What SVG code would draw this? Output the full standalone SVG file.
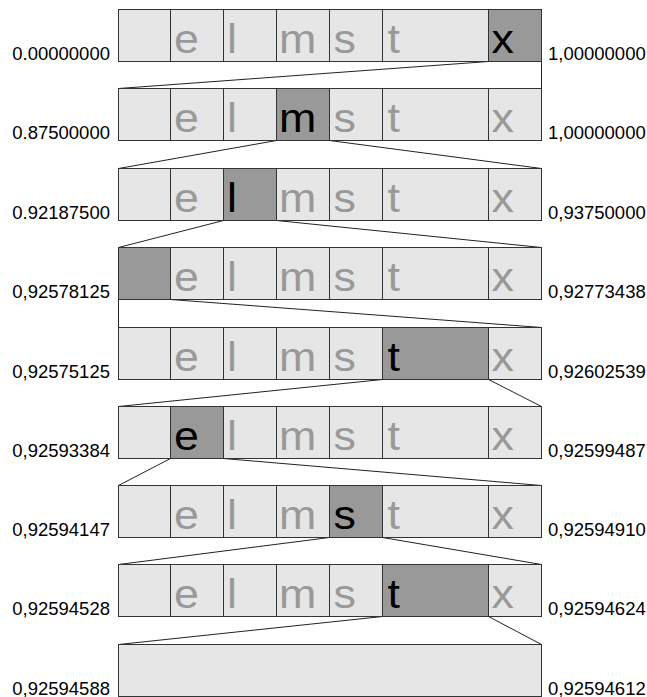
<svg xmlns="http://www.w3.org/2000/svg" width="647" height="697" viewBox="0 0 647 697">
<style>
.c{fill:#e6e6e6;stroke:#333;stroke-width:1}
.h{fill:#999;stroke:#333;stroke-width:1}
.l{font-family:"Liberation Sans",Arial,sans-serif;font-size:40px;fill:#999}
.lh{font-family:"Liberation Sans",Arial,sans-serif;font-size:40px;fill:#000}
.v{font-family:"Liberation Sans",Arial,sans-serif;font-size:18.5px;fill:#000}
.vl{text-anchor:end}
.cn{stroke:#222;stroke-width:1;fill:none}
</style>
<defs>
<g id="cells">
<rect class="c" x="118.5" y="0" width="52" height="52"/>
<rect class="c" x="170.5" y="0" width="53" height="52"/>
<rect class="c" x="223.5" y="0" width="53" height="52"/>
<rect class="c" x="276.5" y="0" width="53" height="52"/>
<rect class="c" x="329.5" y="0" width="53" height="52"/>
<rect class="c" x="382.5" y="0" width="106" height="52"/>
<rect class="c" x="488.5" y="0" width="53" height="52"/>
</g>
</defs>
<g id="connectors">
<line class="cn" x1="488.5" y1="61.5" x2="118.5" y2="88.5"/>
<line class="cn" x1="541.5" y1="61.5" x2="541.5" y2="88.5"/>
<line class="cn" x1="276.5" y1="140.5" x2="118.5" y2="168.5"/>
<line class="cn" x1="329.5" y1="140.5" x2="541.5" y2="168.5"/>
<line class="cn" x1="223.5" y1="220.5" x2="118.5" y2="247.5"/>
<line class="cn" x1="276.5" y1="220.5" x2="541.5" y2="247.5"/>
<line class="cn" x1="118.5" y1="299.5" x2="118.5" y2="327.5"/>
<line class="cn" x1="170.5" y1="299.5" x2="541.5" y2="327.5"/>
<line class="cn" x1="382.5" y1="379.5" x2="118.5" y2="406.5"/>
<line class="cn" x1="488.5" y1="379.5" x2="541.5" y2="406.5"/>
<line class="cn" x1="170.5" y1="458.5" x2="118.5" y2="485.5"/>
<line class="cn" x1="223.5" y1="458.5" x2="541.5" y2="485.5"/>
<line class="cn" x1="329.5" y1="537.5" x2="118.5" y2="564.5"/>
<line class="cn" x1="382.5" y1="537.5" x2="541.5" y2="564.5"/>
<line class="cn" x1="382.5" y1="616.5" x2="118.5" y2="644.5"/>
<line class="cn" x1="488.5" y1="616.5" x2="541.5" y2="644.5"/>
</g>
<g id="row1" transform="translate(0,9.5)">
<use href="#cells"/>
<rect class="h" x="488.5" y="0" width="53" height="52"/>
<text class="l" transform="translate(174,43) scale(1.12,1)">e</text><text class="l" transform="translate(227,43) scale(1.12,1)">l</text><text class="l" transform="translate(279,43) scale(1.12,1)">m</text><text class="l" transform="translate(333.5,43) scale(1.12,1)">s</text><text class="l" transform="translate(387.5,43) scale(1.12,1)">t</text><text class="lh" transform="translate(491.5,43) scale(1.12,1)">x</text>
<text class="v vl" x="110" y="50">0.00000000</text><text class="v" x="548" y="50">1,00000000</text>
</g>
<g id="row2" transform="translate(0,88.5)">
<use href="#cells"/>
<rect class="h" x="276.5" y="0" width="53" height="52"/>
<text class="l" transform="translate(174,43) scale(1.12,1)">e</text><text class="l" transform="translate(227,43) scale(1.12,1)">l</text><text class="lh" transform="translate(279,43) scale(1.12,1)">m</text><text class="l" transform="translate(333.5,43) scale(1.12,1)">s</text><text class="l" transform="translate(387.5,43) scale(1.12,1)">t</text><text class="l" transform="translate(491.5,43) scale(1.12,1)">x</text>
<text class="v vl" x="110" y="50">0.87500000</text><text class="v" x="548" y="50">1,00000000</text>
</g>
<g id="row3" transform="translate(0,168.5)">
<use href="#cells"/>
<rect class="h" x="223.5" y="0" width="53" height="52"/>
<text class="l" transform="translate(174,43) scale(1.12,1)">e</text><text class="lh" transform="translate(227,43) scale(1.12,1)">l</text><text class="l" transform="translate(279,43) scale(1.12,1)">m</text><text class="l" transform="translate(333.5,43) scale(1.12,1)">s</text><text class="l" transform="translate(387.5,43) scale(1.12,1)">t</text><text class="l" transform="translate(491.5,43) scale(1.12,1)">x</text>
<text class="v vl" x="110" y="50">0.92187500</text><text class="v" x="548" y="50">0,93750000</text>
</g>
<g id="row4" transform="translate(0,247.5)">
<use href="#cells"/>
<rect class="h" x="118.5" y="0" width="52" height="52"/>
<text class="l" transform="translate(174,43) scale(1.12,1)">e</text><text class="l" transform="translate(227,43) scale(1.12,1)">l</text><text class="l" transform="translate(279,43) scale(1.12,1)">m</text><text class="l" transform="translate(333.5,43) scale(1.12,1)">s</text><text class="l" transform="translate(387.5,43) scale(1.12,1)">t</text><text class="l" transform="translate(491.5,43) scale(1.12,1)">x</text>
<text class="v vl" x="110" y="50">0,92578125</text><text class="v" x="548" y="50">0,92773438</text>
</g>
<g id="row5" transform="translate(0,327.5)">
<use href="#cells"/>
<rect class="h" x="382.5" y="0" width="106" height="52"/>
<text class="l" transform="translate(174,43) scale(1.12,1)">e</text><text class="l" transform="translate(227,43) scale(1.12,1)">l</text><text class="l" transform="translate(279,43) scale(1.12,1)">m</text><text class="l" transform="translate(333.5,43) scale(1.12,1)">s</text><text class="lh" transform="translate(387.5,43) scale(1.12,1)">t</text><text class="l" transform="translate(491.5,43) scale(1.12,1)">x</text>
<text class="v vl" x="110" y="50">0,92575125</text><text class="v" x="548" y="50">0,92602539</text>
</g>
<g id="row6" transform="translate(0,406.5)">
<use href="#cells"/>
<rect class="h" x="170.5" y="0" width="53" height="52"/>
<text class="lh" transform="translate(174,43) scale(1.12,1)">e</text><text class="l" transform="translate(227,43) scale(1.12,1)">l</text><text class="l" transform="translate(279,43) scale(1.12,1)">m</text><text class="l" transform="translate(333.5,43) scale(1.12,1)">s</text><text class="l" transform="translate(387.5,43) scale(1.12,1)">t</text><text class="l" transform="translate(491.5,43) scale(1.12,1)">x</text>
<text class="v vl" x="110" y="50">0,92593384</text><text class="v" x="548" y="50">0,92599487</text>
</g>
<g id="row7" transform="translate(0,485.5)">
<use href="#cells"/>
<rect class="h" x="329.5" y="0" width="53" height="52"/>
<text class="l" transform="translate(174,43) scale(1.12,1)">e</text><text class="l" transform="translate(227,43) scale(1.12,1)">l</text><text class="l" transform="translate(279,43) scale(1.12,1)">m</text><text class="lh" transform="translate(333.5,43) scale(1.12,1)">s</text><text class="l" transform="translate(387.5,43) scale(1.12,1)">t</text><text class="l" transform="translate(491.5,43) scale(1.12,1)">x</text>
<text class="v vl" x="110" y="50">0,92594147</text><text class="v" x="548" y="50">0,92594910</text>
</g>
<g id="row8" transform="translate(0,564.5)">
<use href="#cells"/>
<rect class="h" x="382.5" y="0" width="106" height="52"/>
<text class="l" transform="translate(174,43) scale(1.12,1)">e</text><text class="l" transform="translate(227,43) scale(1.12,1)">l</text><text class="l" transform="translate(279,43) scale(1.12,1)">m</text><text class="l" transform="translate(333.5,43) scale(1.12,1)">s</text><text class="lh" transform="translate(387.5,43) scale(1.12,1)">t</text><text class="l" transform="translate(491.5,43) scale(1.12,1)">x</text>
<text class="v vl" x="110" y="50">0,92594528</text><text class="v" x="548" y="50">0,92594624</text>
</g>
<g id="row9" transform="translate(0,644.5)">
<rect class="c" x="118.5" y="0" width="423" height="52"/>
<text class="v vl" x="110" y="50">0,92594588</text><text class="v" x="548" y="50">0,92594612</text>
</g>
</svg>
